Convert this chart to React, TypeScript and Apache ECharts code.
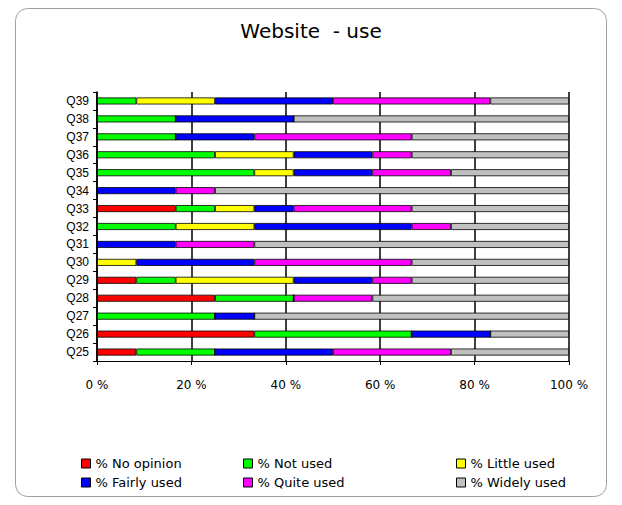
import React, { useEffect, useRef } from "react";
import * as echarts from "echarts";

const categories = ["Q25", "Q26", "Q27", "Q28", "Q29", "Q30", "Q31", "Q32", "Q33", "Q34", "Q35", "Q36", "Q37", "Q38", "Q39"];
const noOpinion = [8.33, 33.33, 0, 25, 8.33, 0, 0, 0, 16.67, 0, 0, 0, 0, 0, 0];
const notUsed = [16.67, 33.33, 25, 16.67, 8.33, 0, 0, 16.67, 8.33, 0, 33.33, 25, 16.67, 16.67, 8.33];
const littleUsed = [0, 0, 0, 0, 25, 8.33, 0, 16.67, 8.33, 0, 8.33, 16.67, 0, 0, 16.67];
const fairlyUsed = [25, 16.67, 8.33, 0, 16.67, 25, 16.67, 33.33, 8.33, 16.67, 16.67, 16.67, 16.67, 25, 25];
const quiteUsed = [25, 0, 0, 16.67, 8.33, 33.33, 16.67, 8.33, 25, 8.33, 16.67, 8.33, 33.33, 0, 33.33];
const widelyUsed = [25, 16.67, 66.67, 41.67, 33.33, 33.33, 66.67, 25, 33.33, 75, 25, 33.33, 33.33, 58.33, 16.67];
const xTicks = [0, 20, 40, 60, 80, 100];

const seriesDefs = [
  { name: "% No opinion", data: noOpinion, color: "#FF0000" },
  { name: "% Not used", data: notUsed, color: "#00FF00" },
  { name: "% Little used", data: littleUsed, color: "#FFFF00" },
  { name: "% Fairly used", data: fairlyUsed, color: "#0000FF" },
  { name: "% Quite used", data: quiteUsed, color: "#FF00FF" },
  { name: "% Widely used", data: widelyUsed, color: "#C0C0C0" },
];

const font = "'Liberation Sans', Arial, sans-serif";
const wideFont = "'DejaVu Sans', Verdana, sans-serif";

export default function App() {
  const ref = useRef<HTMLDivElement>(null);
  useEffect(() => {
    if (!ref.current) return;
    const chart = echarts.init(ref.current, null, { renderer: "svg" });
    const legendCommon = {
      orient: "vertical" as const,
      top: 452,
      itemWidth: 9,
      itemHeight: 9,
      itemGap: 6,
      icon: "rect",
      textStyle: { fontSize: 13, color: "#000", fontFamily: wideFont },
      itemStyle: { borderColor: "#000", borderWidth: 1 },
    };
    chart.setOption({
      animation: false,
      backgroundColor: "#fff",
      title: {
        text: "Website  - use",
        left: "center",
        top: 16,
        textStyle: { fontSize: 20, fontWeight: "normal", color: "#000", fontFamily: wideFont },
      },
      graphic: [
        {
          type: "rect",
          shape: { x: 15.5, y: 8.5, width: 591, height: 488, r: 12 },
          style: { fill: "none", stroke: "#A0A0A0", lineWidth: 1 },
          silent: true,
          z: -1,
        },
      ],
      legend: [
        { ...legendCommon, left: 76, data: ["% No opinion", "% Fairly used"] },
        { ...legendCommon, left: 238, data: ["% Not used", "% Quite used"] },
        { ...legendCommon, left: 451, data: ["% Little used", "% Widely used"] },
      ],
      grid: { left: 97, right: 53, top: 92, bottom: 144 },
      xAxis: {
        type: "value",
        min: 0,
        max: 100,
        interval: 20,
        axisLine: { show: true, lineStyle: { color: "#000", width: 1 } },
        axisTick: { show: true, length: 4, lineStyle: { color: "#000" } },
        splitLine: { show: true, lineStyle: { color: "#000", width: 1.5 } },
        axisLabel: {
          margin: 18,
          fontSize: 12,
          color: "#000",
          fontFamily: wideFont,
          formatter: (v: number) => (xTicks.includes(v) ? `${v} %` : ""),
        },
      },
      yAxis: {
        type: "category",
        data: categories,
        axisLine: { show: true, lineStyle: { color: "#000", width: 1.5 } },
        axisTick: { show: true, length: 4, lineStyle: { color: "#000" } },
        axisLabel: { margin: 8, fontSize: 12, color: "#000", fontFamily: font },
      },
      series: seriesDefs.map((s) => ({
        name: s.name,
        type: "bar",
        stack: "total",
        data: s.data,
        barWidth: 7,
        itemStyle: { color: s.color, borderColor: "#000", borderWidth: 0.8 },
      })),
    });
    return () => chart.dispose();
  }, []);
  return (
    <div
      ref={ref}
      style={{ position: "fixed", left: 0, top: 0, width: 622, height: 505 }}
    />
  );
}
